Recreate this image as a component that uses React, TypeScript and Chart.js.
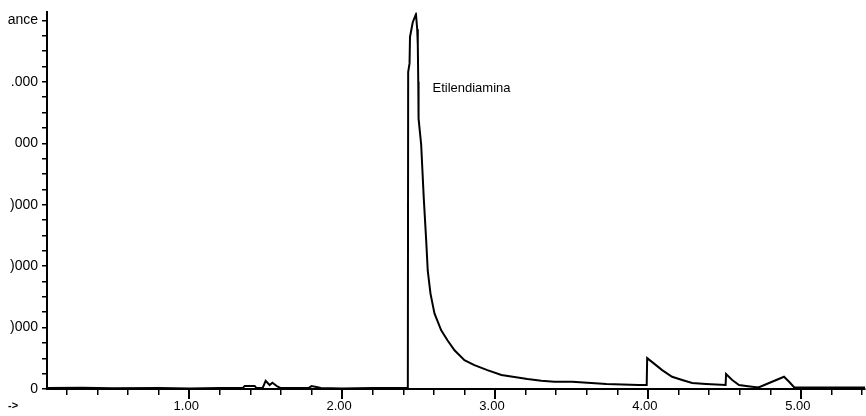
import React, { useEffect, useRef } from "react";
import { Chart, registerables } from "chart.js";

Chart.register(...registerables);

// Retention time (min)
const timeValues = [
  0.07, 0.3, 0.5, 0.8, 1.0, 1.2, 1.35, 1.363, 1.428, 1.44, 1.48, 1.5, 1.526, 1.544, 1.579, 1.6,
  1.78, 1.8, 1.84, 1.86, 2.0, 2.2, 2.4298, 2.432, 2.441, 2.444, 2.462, 2.483, 2.491, 2.495,
  2.498, 2.5, 2.517, 2.534, 2.55, 2.56, 2.578, 2.604, 2.648, 2.689, 2.735, 2.8, 2.865, 2.95,
  3.042, 3.127, 3.212, 3.303, 3.388, 3.505, 3.728, 3.94, 3.992, 3.995, 4.028, 4.093, 4.158,
  4.224, 4.289, 4.38, 4.508, 4.511, 4.551, 4.596, 4.642, 4.707, 4.727, 4.812, 4.89, 4.923,
  4.956, 5.1, 5.42,
];

// Abundance
const abundanceValues = [
  150, 200, 120, 150, 100, 150, 150, 500, 500, 150, 150, 1340, 650, 1020, 370, 150,
  150, 480, 300, 150, 100, 150, 150, 51600, 53000, 57300, 59700, 61000, 58570, 56000,
  50000, 44000, 39800, 31070, 24110, 19250, 15530, 12300, 9550, 7930, 6310, 4690, 3880, 3070,
  2270, 1940, 1620, 1340, 1180, 1180, 810, 650, 650, 5020, 4370, 3070, 1990, 1460,
  970, 810, 650, 2430, 1460, 650, 490, 280, 280, 1180, 1990, 1180,
  280, 250, 250,
];

// X axis ticks (minor every 0.2, labelled at whole minutes)
const xTickValues = [
  0.2, 0.4, 0.6, 0.8, 1.0, 1.2, 1.4, 1.6, 1.8, 2.0, 2.2, 2.4, 2.6, 2.8, 3.0, 3.2, 3.4, 3.6,
  3.8, 4.0, 4.2, 4.4, 4.6, 4.8, 5.0, 5.2, 5.4,
];
const xMajorTickValues = [1.0, 2.0, 3.0, 4.0, 5.0];

// Y axis ticks (minor every 2500; labels as visible in the cropped original)
const yTickValues = [
  0, 2500, 5000, 7500, 10000, 12500, 15000, 17500, 20000, 22500, 25000, 27500, 30000, 32500,
  35000, 37500, 40000, 42500, 45000, 47500, 50000, 52500, 55000, 57500, 60000,
];
const yLabelValues = [0, 10000, 20000, 30000, 40000, 50000, 60000];
const yTickLabels = ["0", ")000", ")000", ")000", "000", ".000", "ance"];

const peakLabel = "Etilendiamina";
const peakLabelTime = 2.591;
const peakLabelAbundance = 48860;
const axisCornerText = "->";

const FONT = "'Liberation Sans', Arial, sans-serif";

export default function App() {
  const canvasRef = useRef<HTMLCanvasElement | null>(null);

  useEffect(() => {
    const canvas = canvasRef.current;
    if (!canvas) return;

    const extrasPlugin = {
      id: "extras",
      afterDraw(chart: any) {
        const { ctx, chartArea } = chart;
        const xs = chart.scales.x;
        const ys = chart.scales.y;
        ctx.save();
        // longer major ticks on x axis
        ctx.strokeStyle = "#000";
        ctx.lineWidth = 2;
        xMajorTickValues.forEach((v) => {
          const px = Math.round(xs.getPixelForValue(v));
          ctx.beginPath();
          ctx.moveTo(px, chartArea.bottom);
          ctx.lineTo(px, chartArea.bottom + 10);
          ctx.stroke();
        });
        // peak annotation
        ctx.fillStyle = "#000";
        ctx.font = `13px ${FONT}`;
        ctx.textAlign = "left";
        ctx.textBaseline = "middle";
        ctx.fillText(peakLabel, xs.getPixelForValue(peakLabelTime), ys.getPixelForValue(peakLabelAbundance));
        // cropped axis title remnant
        ctx.font = `bold 11px ${FONT}`;
        ctx.fillText(axisCornerText, 8, chart.height - 10);
        ctx.restore();
      },
    };

    const chart = new Chart(canvas, {
      type: "line",
      data: {
        datasets: [
          {
            data: timeValues.map((t, i) => ({ x: t, y: abundanceValues[i] })),
            borderColor: "#000",
            borderWidth: 2,
            pointRadius: 0,
            tension: 0,
            fill: false,
          },
        ],
      },
      options: {
        animation: false,
        responsive: false,
        maintainAspectRatio: false,
        layout: { padding: { top: 10, left: 0, right: 0, bottom: 0 } },
        plugins: {
          legend: { display: false },
          tooltip: { enabled: false },
        },
        scales: {
          x: {
            type: "linear",
            min: 0.07,
            max: 5.42,
            afterBuildTicks(scale: any) {
              scale.ticks = xTickValues.map((v) => ({ value: v }));
            },
            afterFit(scale: any) {
              scale.height = 27;
            },
            grid: {
              drawOnChartArea: false,
              drawTicks: true,
              tickLength: 6,
              color: "#000",
              lineWidth: 1.5,
            },
            border: { display: true, color: "#000", width: 2 },
            ticks: {
              autoSkip: false,
              maxRotation: 0,
              minRotation: 0,
              padding: 4,
              labelOffset: -3,
              color: "#000",
              font: { family: FONT, size: 13 },
              callback: (value: any) =>
                xMajorTickValues.includes(Number(value)) ? Number(value).toFixed(2) : "",
            },
          },
          y: {
            type: "linear",
            min: 0,
            max: 61300,
            afterBuildTicks(scale: any) {
              scale.ticks = yTickValues.map((v) => ({ value: v }));
            },
            afterFit(scale: any) {
              scale.width = 47;
            },
            grid: {
              drawOnChartArea: false,
              drawTicks: true,
              tickLength: 5,
              color: "#000",
              lineWidth: 1.5,
            },
            border: { display: true, color: "#000", width: 2 },
            ticks: {
              autoSkip: false,
              padding: 4,
              color: "#000",
              font: { family: FONT, size: 14 },
              callback: (value: any) => {
                const idx = yLabelValues.indexOf(Number(value));
                return idx >= 0 ? yTickLabels[idx] : "";
              },
            },
          },
        },
      },
      plugins: [extrasPlugin],
    });

    return () => {
      chart.destroy();
    };
  }, []);

  return (
    <div style={{ position: "absolute", left: 0, top: 0, width: 866, height: 416, background: "#fff" }}>
      <canvas ref={canvasRef} width={866} height={416} style={{ display: "block" }} />
    </div>
  );
}
